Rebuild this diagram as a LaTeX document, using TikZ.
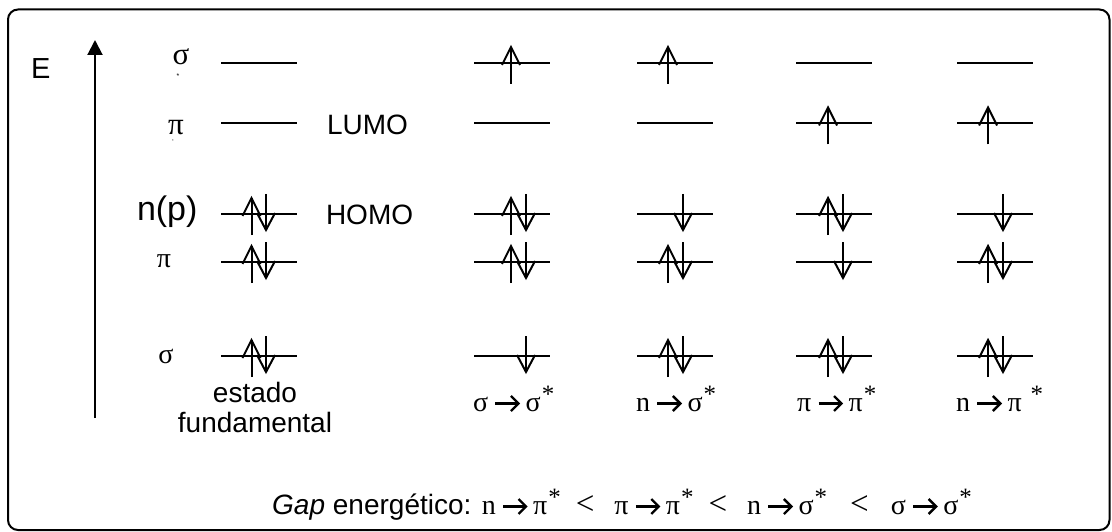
\documentclass[tikz,border=0pt]{standalone}
\usepackage{fontspec}
\setmainfont{Liberation Sans}
\newfontfamily\tms{Liberation Serif}
\usetikzlibrary{arrows.meta}
% helpers: energy level, spin-up and spin-down electrons
\newcommand\lev[2]{\draw (#1-38,#2) -- (#1+38,#2);}
\newcommand\eup[2]{\draw (#1,#2+21) -- (#1,#2-16); \draw (#1-9,#2+2) -- (#1,#2-16) -- (#1+9,#2+2);}
\newcommand\edn[2]{\draw (#1,#2-20) -- (#1,#2+16); \draw (#1-9,#2-1) -- (#1,#2+16) -- (#1+9,#2-1);}
% heavy transition arrow used inside the formulas
\newcommand\arr{\hspace{6pt}\tikz[baseline=0pt,x=1pt,y=1pt,line width=2.4pt,line cap=butt,line join=miter]{\draw (0,7.5)--(23,7.5);\draw (15.5,0)--(23,7.5)--(15.5,15);}\hspace{6pt}}
\newcommand\st{\hspace{1pt}\raisebox{9pt}{\fontsize{25}{28}\selectfont *}}
\newcommand\lt{{\fontsize{33}{36}\selectfont <}}
\begin{document}
\begin{tikzpicture}[x=1pt,y=-1pt,line width=2pt,
  txt/.style={inner sep=0pt,font=\fontsize{28}{32}\selectfont},
  sym/.style={inner sep=0pt,font=\fontsize{28}{32}\selectfont\tms},
  tiny/.style={inner sep=0pt,font=\fontsize{7}{8}\selectfont}]
\useasboundingbox (0,0) rectangle (1112,532);
\draw[rounded corners=10pt] (8,9.5) rectangle (1109.5,530);

% energy axis
\coordinate (axbot) at (95,418);
\coordinate (axtop) at (95,40);
\draw[-{Triangle[length=15pt,width=15pt]}] (axbot) -- (axtop);
\node[txt,font=\fontsize{29}{32}\selectfont,anchor=base west] (E) at (30,79) {E};

% orbital labels
\node[sym,font=\fontsize{31}{34}\selectfont\tms,anchor=base] (ls) at (181,65) {σ};
\node[tiny] (lsst) at (178,76) {*};
\node[tiny,font=\fontsize{4}{5}\selectfont] (lpst) at (173,141) {*};
\node[sym,font=\fontsize{31}{34}\selectfont\tms,anchor=base] (lp) at (176,135) {π};
\node[txt,font=\fontsize{34}{38}\selectfont,anchor=base west] (ln) at (136,221) {n(p)};
\node[sym,anchor=base] (lp2) at (164,267) {π};
\node[sym,anchor=base] (ls2) at (166,363) {σ};
\node[txt,anchor=base west] (lumo) at (326,135) {LUMO};
\node[txt,anchor=base west] (homo) at (325,225) {HOMO};

% rows: sigma*, pi*, n, pi, sigma
\def\ya{63}\def\yb{123.5}\def\yc{214}\def\yd{262}\def\ye{356}

% ground state
\foreach \y in {\ya,\yb,\yc,\yd,\ye} {\lev{259}{\y}}
\eup{251.5}{\yc}\edn{266}{\yc}
\eup{251.5}{\yd}\edn{266}{\yd}
\eup{251.5}{\ye}\edn{266}{\ye}

% sigma -> sigma*
\foreach \y in {\ya,\yb,\yc,\yd,\ye} {\lev{512}{\y}}
\eup{511}{\ya}
\eup{511}{\yc}\edn{526}{\yc}
\eup{511}{\yd}\edn{526}{\yd}
\edn{526}{\ye}

% n -> sigma*
\foreach \y in {\ya,\yb,\yc,\yd,\ye} {\lev{675}{\y}}
\eup{668}{\ya}
\edn{683}{\yc}
\eup{668}{\yd}\edn{683}{\yd}
\eup{668}{\ye}\edn{683}{\ye}

% pi -> pi*
\foreach \y in {\ya,\yb,\yc,\yd,\ye} {\lev{834}{\y}}
\eup{828}{\yb}
\eup{828}{\yc}\edn{843}{\yc}
\edn{843}{\yd}
\eup{828}{\ye}\edn{843}{\ye}

% n -> pi*
\foreach \y in {\ya,\yb,\yc,\yd,\ye} {\lev{995}{\y}}
\eup{988}{\yb}
\edn{1003}{\yc}
\eup{988}{\yd}\edn{1003}{\yd}
\eup{988}{\ye}\edn{1003}{\ye}

% captions
\node[txt,anchor=base] (est) at (255,402) {estado};
\node[txt,anchor=base] (fund) at (255,432) {fundamental};
\node[sym,anchor=base west] (t1) at (473,411) {σ\arr σ\st};
\node[sym,anchor=base west] (t2) at (636,411) {n\arr σ\st};
\node[sym,anchor=base west] (t3) at (797,411) {π\arr π\st};
\node[sym,anchor=base west] (t4) at (956,411) {n\arr π\hspace{8pt}\st};

% energy gap ordering
\node[txt,anchor=base west] (gap) at (272,514)
  {\textit{Gap} energético: {\tms n\arr π\st\hspace{15pt}\lt\hspace{20pt}π\arr π\st\hspace{15pt}\lt\hspace{20pt}n\arr σ\st\hspace{23pt}\lt\hspace{22pt}σ\arr σ\st}};
\end{tikzpicture}
\end{document}
